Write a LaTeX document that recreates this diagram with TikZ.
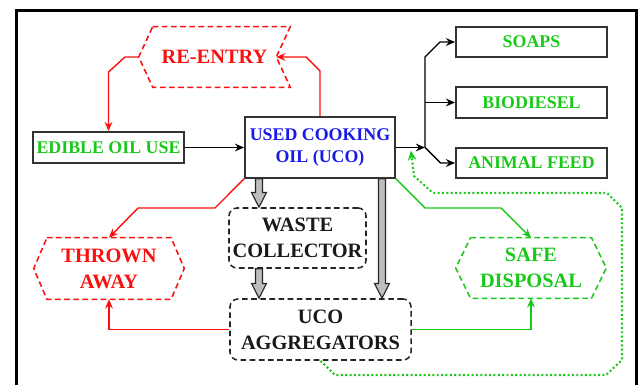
\documentclass[tikz,border=0pt]{standalone}
\usepackage{fontspec}
\setmainfont{Liberation Serif}
\usetikzlibrary{arrows.meta,calc}
\definecolor{myred}{RGB}{250,15,15}
\definecolor{mygreen}{RGB}{25,200,25}
\definecolor{myblue}{RGB}{25,25,230}
\definecolor{mydark}{RGB}{25,25,25}
\definecolor{mygray}{RGB}{190,190,190}
\tikzset{
  boxtext/.style={font=\fontsize{12.7}{15.6}\selectfont\bfseries, align=center, inner sep=0pt},
  bigtext/.style={font=\fontsize{14.5}{18.4}\selectfont\bfseries, align=center, inner sep=0pt},
  solidbox/.style={draw=black!80, line width=1.3pt, rectangle},
  dashbox/.style={draw=black!85, line width=1.1pt, dash pattern=on 4pt off 2.5pt, rounded corners=0.2cm},
  hexline/.style={line width=1.1pt, dash pattern=on 4pt off 2.5pt},
  conn/.style={line width=1pt, -{Stealth[length=6.5pt,width=5.5pt]}},
  dotconn/.style={line width=1.5pt, mygreen, dash pattern=on 1.4pt off 1.7pt, -{Stealth[length=7pt,width=6pt]}},
  fatstyle/.style={draw=black!85, line width=0.8pt, fill=mygray},
}
\newcommand\fatarrow[2]{\draw[fatstyle] let \p1=#1, \p2=#2 in
  (\x1-2.5pt,\y1) -- (\x1-2.5pt,\y2+10.5pt) -- (\x1-5.3pt,\y2+10.5pt) -- (\x1,\y2) --
  (\x1+5.3pt,\y2+10.5pt) -- (\x1+2.5pt,\y2+10.5pt) -- (\x1+2.5pt,\y1) -- cycle;}
\begin{document}
\begin{tikzpicture}[x=0.025cm,y=-0.025cm]
\useasboundingbox (0,0) rectangle (638,385);
\begin{scope}
\clip (0,0) rectangle (638,385);
\draw[line width=2.4pt, black] (16.5,10.5) rectangle (637,400);
\end{scope}

% nodes
\node[solidbox, boxtext, text=mygreen, minimum width=3.775cm, minimum height=0.775cm] (edible) at (108.5,147.5) {EDIBLE OIL USE};
\node[solidbox, boxtext, text=myblue, minimum width=3.75cm, minimum height=1.525cm] (uco) at (320,147.5) {USED COOKING\\OIL (UCO)};
\node[solidbox, boxtext, text=mygreen, minimum width=3.775cm, minimum height=0.75cm] (soaps) at (531.5,42) {SOAPS};
\node[solidbox, boxtext, text=mygreen, minimum width=3.775cm, minimum height=0.775cm] (bio) at (531.5,102.5) {BIODIESEL};
\node[solidbox, boxtext, text=mygreen, minimum width=3.775cm, minimum height=0.75cm] (feed) at (531.5,163) {ANIMAL FEED};
\node[bigtext, text=myred, minimum width=3.775cm, minimum height=1.5cm] (reentry) at (214.5,57) {RE-ENTRY};
\node[bigtext, text=myred, minimum width=3.75cm, minimum height=1.525cm] (thrown) at (109,268.5) {THROWN\\AWAY};
\node[bigtext, text=mygreen, minimum width=3.75cm, minimum height=1.5cm] (safe) at (531,268) {SAFE\\DISPOSAL};
\node[dashbox, bigtext, text=mydark, minimum width=3.425cm, minimum height=1.5cm] (waste) at (297.5,238) {WASTE\\COLLECTOR};
\node[dashbox, bigtext, text=mydark, minimum width=4.525cm, minimum height=1.525cm] (agg) at (320.5,329.5) {UCO\\AGGREGATORS};

% hexagon outlines
\draw[hexline, myred] ([xshift=0.35cm]reentry.north west) -- (reentry.north east) -- ([xshift=-0.35cm]reentry.east) coordinate (notch) -- (reentry.south east) -- ([xshift=0.35cm]reentry.south west) -- (reentry.west) -- cycle;
\draw[hexline, myred] ([xshift=0.33cm]thrown.north west) -- ([xshift=-0.33cm]thrown.north east) -- (thrown.east) -- ([xshift=-0.33cm]thrown.south east) -- ([xshift=0.33cm]thrown.south west) -- (thrown.west) -- cycle;
\draw[hexline, mygreen] ([xshift=0.37cm]safe.north west) -- ([xshift=-0.37cm]safe.north east) -- (safe.east) -- ([xshift=-0.37cm]safe.south east) -- ([xshift=0.37cm]safe.south west) -- (safe.west) -- cycle;

% black connectors
\coordinate (br) at (425,147.5);
\draw[conn] (edible.east) -- (uco.west);
\draw[conn] (uco.east) -- (br);
\draw[conn] (br) -- (425,57) -- (440,42) -- (soaps.west);
\draw[conn] (br |- bio.west) -- (bio.west);
\draw[conn] (br) -- (440.5,163) -- (feed.west);

% red connectors
\draw[conn, myred] (uco.north -| 320,0) -- (320,71) -- (306,57) -- (notch);
\draw[conn, myred] (reentry.west) -- (125,57) -- (108.5,72) -- (edible.north);
\draw[conn, myred] (uco.south west) -- (215,208) -- (138,208) -- (thrown.north);
\draw[conn, myred] (agg.west) -- (thrown.south |- agg.west) -- (thrown.south);

% green connectors
\draw[conn, mygreen] (uco.south east) -- (425,208) -- (501,208) -- (safe.north);
\draw[conn, mygreen] (agg.east) -- (safe.south |- agg.east) -- (safe.south);
\coordinate (dotend) at (411,150.5);
\draw[dotconn] (agg.south) -- (335,375) -- (606,375) -- (622,360) -- (622,208) -- (607,193) -- (433,193) -- (414,176) -- (dotend);

% gray fat arrows
\coordinate (g1) at (259,0);
\coordinate (g2) at (382,0);
\fatarrow{(uco.south -| g1)}{(waste.north -| g1)}
\fatarrow{(waste.south -| g1)}{(agg.north -| g1)}
\fatarrow{(uco.south -| g2)}{(agg.north -| g2)}
\end{tikzpicture}
\end{document}
